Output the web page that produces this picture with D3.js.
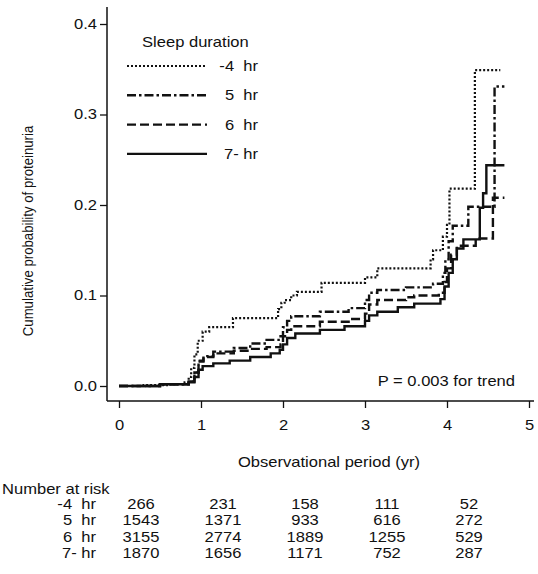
<!DOCTYPE html>
<html lang="en">
<head>
<meta charset="UTF-8">
<title>Cumulative probability of proteinuria by sleep duration</title>
<script src="https://cdn.jsdelivr.net/npm/d3@7"></script>
<style>
  body { margin: 0; background: #fff; }
  svg { font-family: "Liberation Sans", Arial, sans-serif; }
  text { fill: #111; white-space: pre; }
</style>
</head>
<body>
<script>
// step points: [year, cumulative probability]
const sleep4 = [[0,0],[0.3,0.001],[0.6,0.002],[0.8,0.004],[0.85,0.01],[0.88,0.02],[0.92,0.035],[0.96,0.05],
  [1.02,0.06],[1.1,0.065],[1.39,0.075],[1.94,0.085],[1.98,0.092],[2.02,0.095],[2.1,0.1],[2.17,0.104],
  [2.47,0.114],[3.0,0.12],[3.15,0.13],[3.8,0.14],[3.83,0.15],[3.95,0.165],[4.0,0.178],[4.03,0.218],
  [4.34,0.349],[4.65,0.349]];
const sleep5 = [[0,0],[0.5,0.002],[0.85,0.005],[0.92,0.015],[0.97,0.028],[1.03,0.033],[1.15,0.038],[1.4,0.042],
  [1.6,0.047],[1.8,0.051],[1.97,0.055],[2.0,0.065],[2.05,0.072],[2.1,0.077],[2.45,0.082],[2.8,0.086],
  [3.0,0.095],[3.05,0.103],[3.15,0.106],[3.5,0.109],[3.83,0.113],[3.95,0.125],[3.98,0.14],[4.02,0.16],
  [4.07,0.177],[4.26,0.198],[4.58,0.331],[4.7,0.331]];
const sleep6 = [[0,0],[0.5,0.002],[0.85,0.005],[0.92,0.015],[0.97,0.027],[1.03,0.032],[1.15,0.036],[1.4,0.039],
  [1.6,0.041],[1.8,0.043],[1.97,0.046],[2.0,0.055],[2.05,0.062],[2.1,0.066],[2.45,0.071],[2.8,0.074],
  [3.0,0.08],[3.05,0.09],[3.15,0.095],[3.5,0.098],[3.6,0.1],[3.9,0.103],[3.97,0.115],[4.0,0.13],
  [4.05,0.145],[4.12,0.155],[4.35,0.163],[4.56,0.208],[4.7,0.208]];
const sleep7 = [[0,0],[0.5,0.002],[0.85,0.004],[0.92,0.01],[0.97,0.018],[1.02,0.022],[1.15,0.025],[1.35,0.028],
  [1.6,0.032],[1.85,0.036],[1.96,0.04],[2.0,0.046],[2.05,0.053],[2.15,0.058],[2.45,0.062],[2.75,0.066],
  [3.0,0.072],[3.05,0.078],[3.15,0.082],[3.4,0.087],[3.6,0.091],[3.92,0.096],[3.97,0.11],[4.02,0.125],
  [4.07,0.14],[4.12,0.152],[4.2,0.162],[4.4,0.197],[4.44,0.213],[4.48,0.244],[4.7,0.244]];

const groupLabels = ["-4  hr", "5  hr", "6  hr", "7- hr"];
const groupDash = ["2,2", "9,3,2.5,3", "9,4", null];

const riskTimes = [0, 1, 2, 3, 4];
const risk4 = [266, 231, 158, 111, 52];
const risk5 = [1543, 1371, 933, 616, 272];
const risk6 = [3155, 2774, 1889, 1255, 529];
const risk7 = [1870, 1656, 1171, 752, 287];

const xTicks = [0, 1, 2, 3, 4, 5];
const yTicks = [0, 0.1, 0.2, 0.3, 0.4];

const width = 538, height = 574;
const fs = 13.8;      // font size
const sx = 1.2;       // the original type is a little wide

const svg = d3.select("body").append("svg")
  .attr("width", width)
  .attr("height", height);

// move x/y into a transform so the glyphs can be widened in place
function stretch(sel) {
  sel.each(function() {
    const t = d3.select(this);
    const tx = +t.attr("x") || 0, ty = +t.attr("y") || 0;
    t.attr("x", 0).attr("y", 0)
      .attr("transform", `translate(${tx},${ty}) scale(${sx},1)`);
  });
}

function label(px, py, str, anchor) {
  return svg.append("text")
    .attr("x", px).attr("y", py)
    .attr("text-anchor", anchor || "start")
    .attr("font-size", fs)
    .attr("xml:space", "preserve")
    .text(str)
    .call(stretch);
}

const x = d3.scaleLinear().domain([0, 5]).range([119, 529]);
const y = d3.scaleLinear().domain([0, 0.4]).range([386, 24]);

// axis frame (L shape)
const axisX0 = 107, axisY0 = 401;
svg.append("line")
  .attr("x1", axisX0).attr("x2", axisX0).attr("y1", 7).attr("y2", axisY0)
  .attr("stroke", "#111").attr("stroke-width", 1.5);
svg.append("line")
  .attr("x1", axisX0).attr("x2", 534).attr("y1", axisY0).attr("y2", axisY0)
  .attr("stroke", "#111").attr("stroke-width", 1.5);

const yAxis = svg.append("g")
  .attr("transform", `translate(${axisX0},0)`)
  .call(d3.axisLeft(y).tickValues(yTicks).tickFormat(d3.format(".1f")).tickSize(7).tickPadding(3));
const xAxis = svg.append("g")
  .attr("transform", `translate(0,${axisY0})`)
  .call(d3.axisBottom(x).tickValues(xTicks).tickFormat(d3.format("d")).tickSize(7).tickPadding(12));

[yAxis, xAxis].forEach(g => {
  g.select(".domain").remove();
  g.selectAll(".tick line").attr("stroke", "#111").attr("stroke-width", 1.3);
  g.selectAll(".tick text").attr("font-size", fs).attr("fill", "#111").call(stretch);
});

svg.append("text")
  .attr("transform", "translate(33,231) rotate(-90) scale(1,1.15)")
  .attr("text-anchor", "middle")
  .attr("font-size", 13.2)
  .text("Cumulative probability of proteinuria");

label(329, 467, "Observational period (yr)", "middle");

// curves
const line = d3.line()
  .x(d => x(d[0]))
  .y(d => y(d[1]))
  .curve(d3.curveStepAfter);

[sleep4, sleep5, sleep6, sleep7].forEach((s, i) => {
  svg.append("path")
    .datum(s)
    .attr("fill", "none")
    .attr("stroke", "#111")
    .attr("stroke-width", i === 0 ? 2.2 : 2.4)
    .attr("stroke-dasharray", groupDash[i])
    .attr("d", line);
});

// legend
label(142, 47, "Sleep duration");
groupLabels.forEach((lab, i) => {
  const ly = 66 + i * 29.3;
  svg.append("line")
    .attr("x1", 127).attr("x2", 207).attr("y1", ly).attr("y2", ly)
    .attr("stroke", "#111")
    .attr("stroke-width", i === 0 ? 2.2 : 2.4)
    .attr("stroke-dasharray", groupDash[i]);
  label(258, ly + 5, lab, "end");
});

label(515, 386, "P = 0.003 for trend", "end");

// number at risk table
label(2, 494, "Number at risk");

[risk4, risk5, risk6, risk7].forEach((row, i) => {
  const ry = 509 + i * 16.3;
  label(96, ry, groupLabels[i], "end");
  svg.selectAll(null)
    .data(row)
    .enter().append("text")
    .attr("x", (d, j) => x(riskTimes[j]) + 22)
    .attr("y", ry)
    .attr("text-anchor", "middle")
    .attr("font-size", fs)
    .text(d => d)
    .call(stretch);
});
</script>
</body>
</html>
